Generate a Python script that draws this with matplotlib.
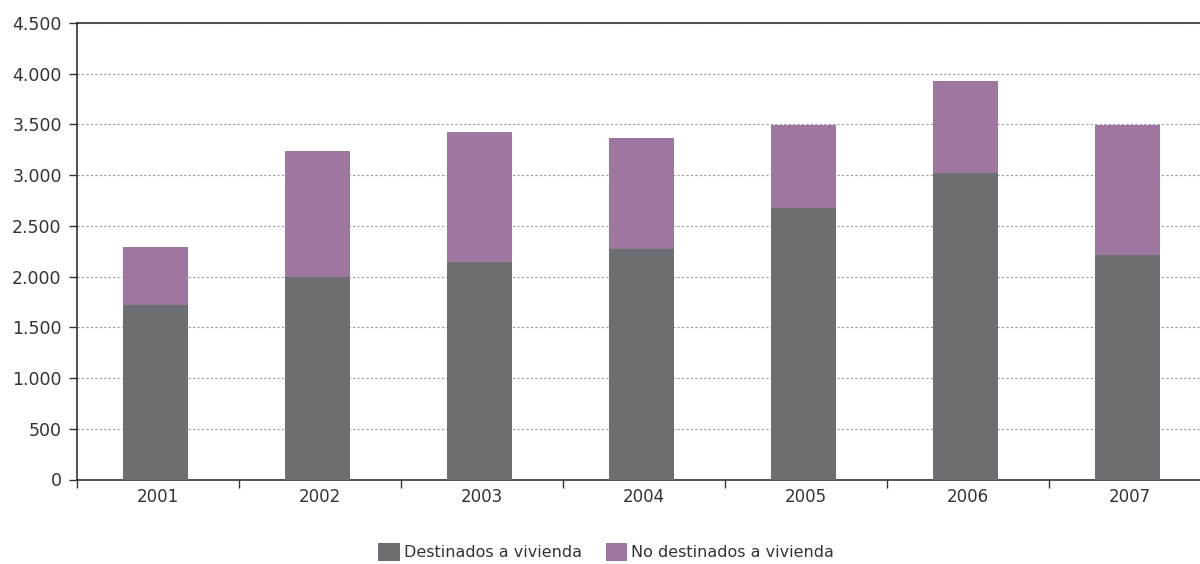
import matplotlib
matplotlib.use("Agg")
import matplotlib.pyplot as plt
import numpy as np
from matplotlib.ticker import FuncFormatter, FixedLocator

years = ["2001", "2002", "2003", "2004", "2005", "2006", "2007"]
vivienda = [1720, 2000, 2147, 2273, 2674, 3026, 2217]
no_vivienda = [575, 1243, 1277, 1098, 823, 905, 1280]
labels = ["Destinados a vivienda", "No destinados a vivienda"]
y_ticks = [0, 500, 1000, 1500, 2000, 2500, 3000, 3500, 4000, 4500]

c_dark = "#6D6E71"
c_purple = "#9E76A0"

plt.rcParams['font.family'] = ['DejaVu Sans']

fig = plt.figure(figsize=(12, 5.64), dpi=100)
ax = fig.add_axes([77/1200, 1 - 479.5/564, 1134/1200, (479.5 - 23)/564])

x = np.arange(len(years))
w = 0.4
b1 = ax.bar(x - 0.015, vivienda, width=w, color=c_dark, label=labels[0], zorder=3)
b2 = ax.bar(x - 0.015, no_vivienda, width=w, bottom=vivienda, color=c_purple, label=labels[1], zorder=3)

ax.set_xlim(-0.5, len(years) - 0.5)
ax.set_ylim(0, 4500)
ax.set_yticks(y_ticks)
ax.yaxis.set_major_formatter(FuncFormatter(lambda v, p: f"{int(v):,}".replace(",", ".")))
ax.grid(axis='y', linestyle=(0, (2, 2)), color="#999999", linewidth=0.8, zorder=0)

ax.set_xticks(x)
ax.set_xticklabels(years)
ax.xaxis.set_minor_locator(FixedLocator(np.arange(-0.5, len(years), 1.0)))
ax.tick_params(axis='x', which='major', length=0, labelsize=12, colors="#333333", pad=6)
ax.tick_params(axis='x', which='minor', length=6, width=1, color="#333333")
ax.tick_params(axis='y', length=6, width=1, labelsize=12.5, colors="#333333", pad=5)

for s in ['left', 'bottom', 'top']:
    ax.spines[s].set_color("#333333")
    ax.spines[s].set_linewidth(1.2)
ax.spines['right'].set_visible(False)

fig.legend(handles=[b1, b2], labels=labels, loc='center', bbox_to_anchor=(606/1200, 1 - 552/564),
           ncol=2, frameon=False, fontsize=11.5, handlelength=1.35, handleheight=1.35,
           handletextpad=0.25, columnspacing=1.5, labelcolor="#333333")

fig.savefig("out.png", dpi=100)
